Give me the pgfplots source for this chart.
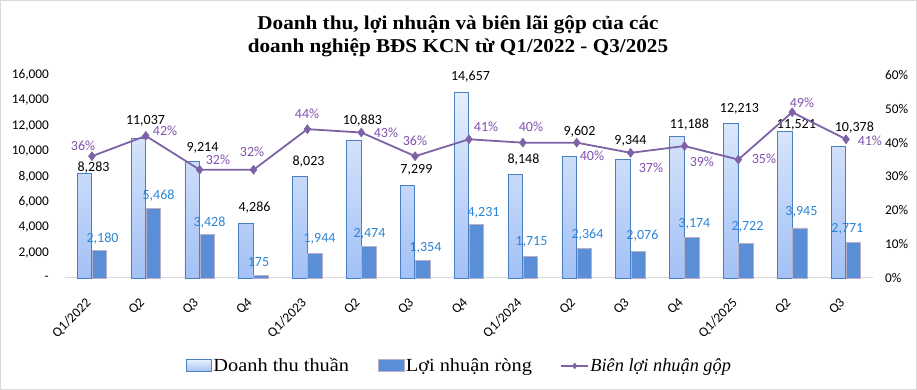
\documentclass[border=0pt]{standalone}
\usepackage{fontspec}
\setmainfont{Liberation Serif}
\newfontfamily\numfont{Carlito}
\newfontfamily\titlefont[FakeStretch=1.08]{Liberation Serif}
\newfontfamily\legfont[FakeStretch=1.1]{Liberation Serif}
\newfontfamily\legitfont[FakeStretch=0.99]{Liberation Serif}
\usepackage{pgfplots}
\usepackage{pgfplotstable}
\pgfplotsset{compat=1.18}
\pgfplotsset{/pgf/number format/assume math mode=true}
\definecolor{revtop}{HTML}{E6EEFC}
\definecolor{revbot}{HTML}{A2C1F6}
\definecolor{revedge}{HTML}{4A7FC4}
\definecolor{proffill}{HTML}{5A8ED6}
\definecolor{profedge}{HTML}{B9B0C8}
\definecolor{proflab}{HTML}{2A84D6}
\definecolor{margline}{HTML}{7E62A6}
\definecolor{marglab}{HTML}{8052AE}
\definecolor{axgray}{HTML}{D9D9D9}

\pgfplotstableread{
x rev dxr dyr prof dxp dyp marg dxm dym
0 8283 1.6 4.9 2180 10.6 11.3 36 -8.9 10.2
1 11037 -0.3 17.0 5468 12.7 12.6 42 19.2 4.9
2 9214 2.8 13.1 3428 9.8 11.5 32 18.3 9.7
3 4286 1.0 15.6 175 5.0 13.8 32 -1.5 17.7
4 8023 1.1 14.2 1944 12.1 14.3 44 -0.4 15.1
5 10883 1.2 18.9 2474 8.2 12.6 43 24.7 -0.5
6 7299 1.3 15.4 1354 10.3 12.8 36 -0.2 15.2
7 14657 1.5 15.0 4231 14.5 11.3 41 17.0 12.3
8 8148 0.6 14.6 1715 8.6 14.2 40 8.1 15.7
9 9602 2.7 24.2 2364 10.7 13.0 40 15.2 -13.3
10 9344 -0.2 18.4 2076 11.8 15.7 37 20.3 -15.2
11 11188 4.9 11.1 3174 9.9 13.7 39 17.4 -15.9
12 12213 1.1 14.0 2722 9.1 16.5 35 25.6 0.6
13 11521 4.2 6.8 3945 9.2 15.9 49 9.7 9.2
14 10378 8.3 18.3 2771 1.3 13.8 41 23.8 -1.7
}\data

\begin{document}
\begin{tikzpicture}
\path[use as bounding box] (0,0) rectangle (917bp,390bp);
\draw[gray!30, line width=1bp] (0.5bp,0.5bp) rectangle (916.5bp,389.5bp);
\node[anchor=base, font=\titlefont\bfseries\fontsize{19.6bp}{24bp}\selectfont] at (458bp,360bp) {Doanh thu, lợi nhuận và biên lãi gộp của các};
\node[anchor=base, font=\titlefont\bfseries\fontsize{19.6bp}{24bp}\selectfont] at (458bp,337bp) {doanh nghiệp BĐS KCN từ Q1/2022 - Q3/2025};

\begin{axis}[
  at={(65bp,112bp)}, anchor=south west, scale only axis,
  width=808bp, height=203bp,
  xmin=-0.5, xmax=14.5, ymin=0, ymax=16000,
  scaled y ticks=false,
  axis x line*=bottom, axis y line*=left,
  x axis line style={draw=axgray, line width=1bp, -},
  y axis line style={draw=none},
  major tick length=0pt,
  xtick={0,...,14},
  xticklabels={Q1/2022,Q2,Q3,Q4,Q1/2023,Q2,Q3,Q4,Q1/2024,Q2,Q3,Q4,Q1/2025,Q2,Q3},
  xticklabel style={xshift=-7bp, yshift=-19bp, rotate=45, anchor=north east, inner sep=0pt, font=\numfont\fontsize{13.5bp}{16bp}\selectfont},
  ytick={0,2000,...,16000},
  yticklabels={{-\hspace{7bp}},{2,000},{4,000},{6,000},{8,000},{10,000},{12,000},{14,000},{16,000}},
  yticklabel style={font=\numfont\fontsize{13.3bp}{15bp}\selectfont, anchor=east, inner sep=0pt, xshift=-16bp},
  clip=false,
]
\addplot[ybar, bar width=14.5bp, bar shift=-7.5bp, draw=revedge, line width=0.8bp,
  top color=revtop, bottom color=revbot,
  visualization depends on={\thisrow{dxr} \as \myDX},
  visualization depends on={\thisrow{dyr} \as \myDY},
  nodes near coords={\pgfmathprintnumber[fixed,precision=0,1000 sep={,}]{\pgfplotspointmeta}},
  nodes near coords style={anchor=center, inner sep=0pt, text=black, font=\numfont\fontsize{14bp}{16bp}\selectfont, xshift=\myDX bp, yshift=\myDY bp},
] table[x=x, y=rev] {\data};
\addplot[ybar, bar width=14.5bp, bar shift=7.5bp, draw=profedge, line width=0.7bp, fill=proffill,
  visualization depends on={\thisrow{dxp} \as \myDX},
  visualization depends on={\thisrow{dyp} \as \myDY},
  nodes near coords={\pgfmathprintnumber[fixed,precision=0,1000 sep={,}]{\pgfplotspointmeta}},
  nodes near coords style={anchor=center, inner sep=0pt, text=proflab, font=\numfont\fontsize{14bp}{16bp}\selectfont, xshift=\myDX bp, yshift=\myDY bp},
] table[x=x, y=prof] {\data};
\end{axis}

\begin{axis}[
  at={(65bp,112bp)}, anchor=south west, scale only axis,
  width=808bp, height=203bp,
  xmin=-0.5, xmax=14.5, ymin=0, ymax=60,
  axis x line=none, axis y line*=right,
  y axis line style={draw=none},
  major tick length=0pt,
  ytick={0,10,...,60},
  yticklabels={0\%,10\%,20\%,30\%,40\%,50\%,60\%},
  yticklabel style={font=\numfont\fontsize{13.3bp}{15bp}\selectfont, anchor=west, inner sep=0pt, xshift=12bp},
  clip=false,
  legend style={at={(0.488,-0.433)}, anchor=center, draw=none, fill=none,
    legend columns=3, font=\legfont\fontsize{18.5bp}{20bp}\selectfont,
    /tikz/every even column/.append style={column sep=27bp},
    nodes={inner sep=1.5bp}},
  legend cell align=left,
]
\addlegendimage{legend image code/.code={\draw[draw=revedge,line width=0.8bp,top color=revtop,bottom color=revbot] (0bp,-6bp) rectangle (25bp,6bp);}}
\addlegendentry{Doanh thu thuần}
\addlegendimage{legend image code/.code={\draw[draw=profedge,line width=0.8bp,fill=proffill] (0bp,-6bp) rectangle (26bp,6bp);}}
\addlegendentry{Lợi nhuận ròng}
\addplot[margline, line width=1.8bp, mark=diamond*, mark size=4.5bp,
  mark options={fill=margline, draw=margline, line width=0.5bp},
  visualization depends on={\thisrow{dxm} \as \myDX},
  visualization depends on={\thisrow{dym} \as \myDY},
  nodes near coords={\pgfmathprintnumber[fixed,precision=0]{\pgfplotspointmeta}\%},
  nodes near coords style={anchor=center, inner sep=0pt, text=marglab, font=\numfont\fontsize{14bp}{16bp}\selectfont, xshift=\myDX bp, yshift=\myDY bp},
  legend image code/.code={\draw[margline, line width=1.5bp, mark=diamond*, mark size=3bp, mark options={fill=margline, line width=0.4bp}, mark repeat=2, mark phase=2] plot coordinates {(0bp,0bp) (13.5bp,0bp) (27bp,0bp)};},
] table[x=x, y=marg] {\data};
\addlegendentry{\legitfont\itshape Biên lợi nhuận gộp}
\end{axis}
\end{tikzpicture}
\end{document}
